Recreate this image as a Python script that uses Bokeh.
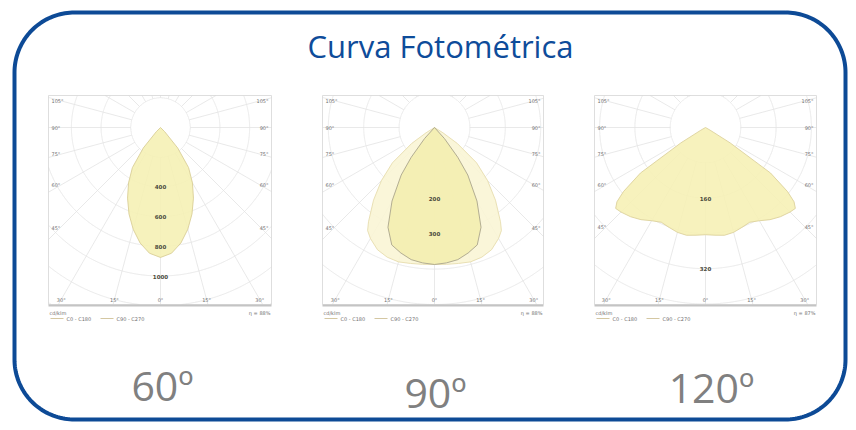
import numpy as np
from bokeh.plotting import figure
from bokeh.models import Range1d
from bokeh.embed import file_html
from bokeh.resources import INLINE
from bokeh.core.properties import value

# ---------------- data ----------------
TITLE = "Curva Fotométrica"
BEAM_LABELS = ["60º", "90º", "120º"]

SIDE_ANGLE_LABELS = ["105°", "90°", "75°", "60°", "45°"]
SIDE_ANGLES = [105, 90, 75, 60, 45]
BOTTOM_ANGLE_LABELS = ["30°", "15°", "0°", "15°", "30°"]
BOTTOM_ANGLES = [-30, -15, 0, 15, 30]
UNIT_LABEL = "cd/klm"
LEGEND_LABELS = ["C0 - C180", "C90 - C270"]
EFFICIENCY = ["η = 88%", "η = 88%", "η = 87%"]

# luminous intensity (cd/klm) versus gamma angle (deg)
gamma_60 = [0, 5, 10, 15, 20, 25, 30, 35, 40, 45, 48]
cd_60 = [875, 850, 790, 710, 620, 525, 430, 330, 180, 40, 0]

gamma_90_c0 = [0, 5, 10, 15, 20, 25, 30, 35, 38, 42, 45]
cd_90_c0 = [387, 384, 379, 367, 353, 311, 240, 164, 107, 42, 0]
gamma_90_c90 = [0, 5, 10, 15, 20, 25, 30, 33, 35, 40, 45, 50, 55, 58, 60]
cd_90_c90 = [387, 388, 390, 393, 390, 381, 362, 347, 325, 268, 212, 155, 79, 28, 0]

gamma_120 = [0, 5, 10, 15, 20, 25, 30, 35, 40, 45, 48, 50, 52, 55, 58, 60, 62]
cd_120 = [243, 245, 248, 246, 241, 237, 244, 255, 264, 271, 274, 262, 236, 180, 66, 12, 0]

ring_units = [200, 100, 80]
ring_labels_60 = [400, 600, 800, 1000]
ring_labels_90 = [200, 300]
ring_labels_120 = [160, 320]

# ---------------- figure ----------------
W, H = 848, 422
p = figure(width=W, height=H, output_backend="svg", toolbar_location=None,
           x_range=Range1d(0, W), y_range=Range1d(H, 0),
           x_axis_type=None, y_axis_type=None, min_border=0,
           outline_line_color=None, background_fill_color="white",
           border_fill_color="white")

# rounded frame
L, R, T, B, rad = 14, 845, 12, 419, 60
def arc(cx, cy, a0, a1):
    t = np.radians(np.linspace(a0, a1, 40))
    return cx + rad * np.cos(t), cy + rad * np.sin(t)
parts = [arc(R - rad, T + rad, -90, 0), arc(R - rad, B - rad, 0, 90),
         arc(L + rad, B - rad, 90, 180), arc(L + rad, T + rad, 180, 270)]
fx = np.concatenate([q[0] for q in parts] + [[parts[0][0][0]]])
fy = np.concatenate([q[1] for q in parts] + [[parts[0][1][0]]])
p.line(fx, fy, line_color="#0d4a96", line_width=4)

p.text(x=[440], y=[45], text=[TITLE], text_font=value("Open Sans"),
       text_font_size="31px", text_color="#0e4c9a", text_align="center",
       text_baseline="middle")

beam_pos = [(162, 384), (435, 391), (711, 386)]
for (bx, by), lab in zip(beam_pos, BEAM_LABELS):
    p.text(x=[bx], y=[by], text=[lab], text_font=value("Open Sans"),
           text_font_size="41px", text_color="#808080", text_align="center",
           text_baseline="middle")

plots = [
    dict(box=(48, 271, 95, 304), ox=160, oy=127, sp=29.7, unit=ring_units[0],
         rings=ring_labels_60,
         lobes=[(gamma_60, cd_60, "#f5f0b3", "#d9ce96")]),
    dict(box=(322, 543, 95, 304), ox=434, oy=127, sp=35.4, unit=ring_units[1],
         rings=ring_labels_90,
         lobes=[(gamma_90_c90, cd_90_c90, "#f9f5d4", "#e6dcae"),
                (gamma_90_c0, cd_90_c0, "#f3eeae", "#aaa58c")]),
    dict(box=(594, 816, 95, 304), ox=705, oy=127, sp=35.3, unit=ring_units[2],
         rings=ring_labels_120,
         lobes=[(gamma_120, cd_120, "#f6f0b4", "#ddd19c")]),
]

grid_col = "#e3e3e3"
tiny = "5px"
for i, P in enumerate(plots):
    x0, x1, y0, y1 = P["box"]
    ox, oy, sp = P["ox"], P["oy"], P["sp"]
    # rings
    xs, ys = [], []
    t = np.linspace(0, 2 * np.pi, 1441)
    k = 1
    while k < 20:
        r = k * sp
        cx = ox + r * np.cos(t)
        cy = oy + r * np.sin(t)
        inside = (cx >= x0) & (cx <= x1) & (cy >= y0) & (cy <= y1)
        if not inside.any():
            break
        xs.append(np.where(inside, cx, np.nan).tolist())
        ys.append(np.where(inside, cy, np.nan).tolist())
        k += 1
    p.multi_line(xs, ys, line_color=grid_col, line_width=0.8)
    # radial lines
    rx, ry = [], []
    for a in range(0, 360, 15):
        dx, dy = np.sin(np.radians(a)), np.cos(np.radians(a))
        ts = []
        if dx > 1e-9: ts.append((x1 - ox) / dx)
        if dx < -1e-9: ts.append((x0 - ox) / dx)
        if dy > 1e-9: ts.append((y1 - oy) / dy)
        if dy < -1e-9: ts.append((y0 - oy) / dy)
        te = min(ts)
        if te > sp:
            rx.append([ox + sp * dx, ox + te * dx])
            ry.append([oy + sp * dy, oy + te * dy])
    p.multi_line(rx, ry, line_color=grid_col, line_width=0.8)
    # box
    p.line([x0, x1, x1, x0, x0], [y1, y1, y0, y0, y1], line_color="#d6d6d6", line_width=0.8)
    p.line([x0, x1], [y1 + 1, y1 + 1], line_color="#c4c4c4", line_width=2)

    # lobes
    scale = sp / P["unit"]
    for g, cd, fc, lc in P["lobes"]:
        g = np.array(g, float)
        r = np.array(cd, float) * scale
        ga = np.concatenate([-g[::-1], g[1:]])
        ra = np.concatenate([r[::-1], r[1:]])
        px = ox + ra * np.sin(np.radians(ga))
        py = oy + ra * np.cos(np.radians(ga))
        p.patch(px.tolist(), py.tolist(), fill_color=fc, fill_alpha=0.88,
                line_color=lc, line_width=0.9)

    # ring value labels
    for v in P["rings"]:
        p.text(x=[ox], y=[oy + v / P["unit"] * sp], text=[str(v)],
               text_font=value("DejaVu Sans"), text_font_size="5.5px",
               text_font_style="bold", text_color="#4a4a3c",
               text_align="center", text_baseline="middle")

    # side angle labels
    for lab, ang in zip(SIDE_ANGLE_LABELS, SIDE_ANGLES):
        d = (ox - x0) - 12
        yy = oy + d * np.tan(np.radians(90 - ang))
        p.text(x=[x0 + 3], y=[yy], text=[lab], text_font=value("DejaVu Sans"),
               text_font_size=tiny, text_color="#707070", text_align="left",
               text_baseline="middle")
        p.text(x=[x1 - 3], y=[yy], text=[lab], text_font=value("DejaVu Sans"),
               text_font_size=tiny, text_color="#707070", text_align="right",
               text_baseline="middle")
    for lab, ang in zip(BOTTOM_ANGLE_LABELS, BOTTOM_ANGLES):
        xx = ox + (y1 - 5 - oy) * np.tan(np.radians(ang))
        xx = min(max(xx, x0 + 7), x1 - 7)
        p.text(x=[xx], y=[y1 - 5], text=[lab], text_font=value("DejaVu Sans"),
               text_font_size=tiny, text_color="#707070", text_align="center",
               text_baseline="middle")

    # unit, efficiency, legend
    p.text(x=[x0 + 1], y=[y1 + 8], text=[UNIT_LABEL], text_font=value("DejaVu Sans"),
           text_font_size=tiny, text_color="#707070", text_align="left",
           text_baseline="middle")
    p.text(x=[x1 - 1], y=[y1 + 8], text=[EFFICIENCY[i]], text_font=value("DejaVu Sans"),
           text_font_size=tiny, text_color="#707070", text_align="right",
           text_baseline="middle")
    for j, lab in enumerate(LEGEND_LABELS):
        lx = x0 + 2 + j * 50
        p.line([lx, lx + 13], [y1 + 14, y1 + 14], line_color="#c9b98a", line_width=0.8)
        p.text(x=[lx + 16], y=[y1 + 14], text=[lab], text_font=value("DejaVu Sans"),
               text_font_size=tiny, text_color="#707070", text_align="left",
               text_baseline="middle")

open("out.html", "w").write(file_html(p, INLINE))
